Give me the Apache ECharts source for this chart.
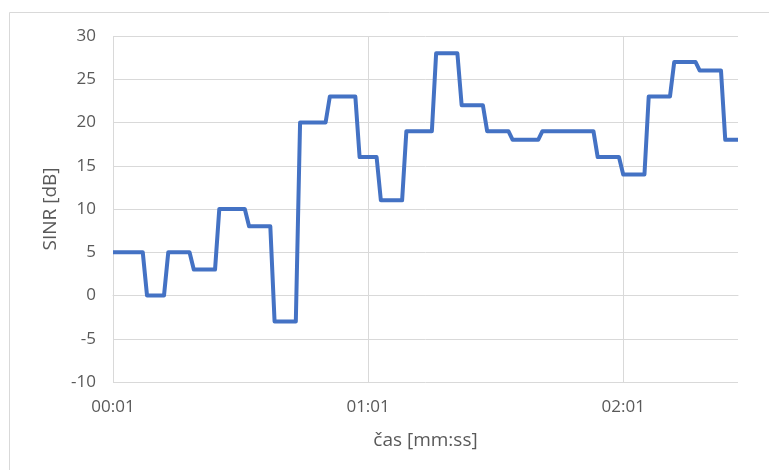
<!DOCTYPE html>
<html>
<head>
<meta charset="utf-8">
<script src="https://cdn.jsdelivr.net/npm/echarts@6/dist/echarts.min.js"></script>
<style>
html,body{margin:0;padding:0;background:#fff;}
#c{width:769px;height:470px;}
</style>
</head>
<body>
<div id="c"></div>
<script>
// Time categories: one sample per second, 00:01 .. 02:28
var startSecond = 1;
var sampleCount = 148;
var categories = [];
for (var i = 0; i < sampleCount; i++) {
  var t = startSecond + i;
  var mm = Math.floor(t / 60), ss = t % 60;
  categories.push((mm < 10 ? '0' : '') + mm + ':' + (ss < 10 ? '0' : '') + ss);
}

// SINR values [dB]
var sinr = [
  5,5,5,5,5,5,5,5,
  0,0,0,0,0,
  5,5,5,5,5,5,
  3,3,3,3,3,3,
  10,10,10,10,10,10,10,
  8,8,8,8,8,8,
  -3,-3,-3,-3,-3,-3,
  20,20,20,20,20,20,20,
  23,23,23,23,23,23,23,
  16,16,16,16,16,
  11,11,11,11,11,11,
  19,19,19,19,19,19,19,
  28,28,28,28,28,28,
  22,22,22,22,22,22,
  19,19,19,19,19,19,
  18,18,18,18,18,18,18,
  19,19,19,19,19,19,19,19,19,19,19,19,19,
  16,16,16,16,16,16,
  14,14,14,14,14,14,
  23,23,23,23,23,23,
  27,27,27,27,27,27,
  26,26,26,26,26,26,
  18,18,18,18
];

var yTicks = { min: -10, max: 30, step: 5 };
var xTitle = 'čas [mm:ss]';
var yTitle = 'SINR [dB]';

var font = '"Open Sans", "Noto Sans", sans-serif';
var textColor = '#595959';
var gridColor = '#d9d9d9';

var chart = echarts.init(document.getElementById('c'), null, { renderer: 'canvas' });
chart.setOption({
  animation: false,
  backgroundColor: '#ffffff',
  graphic: [{
    type: 'rect',
    shape: { x: 9.5, y: 12.5, width: 900, height: 600 },
    style: { fill: 'none', stroke: gridColor, lineWidth: 1 },
    silent: true,
    z: -10
  }],
  grid: { left: 113, top: 36, width: 625, height: 346, containLabel: false },
  xAxis: {
    type: 'category',
    data: categories,
    boundaryGap: false,
    name: xTitle,
    nameLocation: 'middle',
    nameGap: 49,
    nameTextStyle: { fontFamily: font, fontSize: 19, color: textColor },
    axisLine: { show: true, lineStyle: { color: gridColor, width: 1 } },
    axisTick: { show: false },
    axisLabel: {
      interval: 59,
      margin: 17,
      fontFamily: font, fontSize: 17, color: textColor
    },
    splitLine: { show: true, interval: 59, lineStyle: { color: gridColor, width: 1 } }
  },
  yAxis: {
    type: 'value',
    min: yTicks.min,
    max: yTicks.max,
    interval: yTicks.step,
    name: yTitle,
    nameLocation: 'middle',
    nameGap: 51,
    nameTextStyle: { fontFamily: font, fontSize: 19, color: textColor },
    axisLine: { show: false },
    axisTick: { show: false },
    axisLabel: { margin: 17, fontFamily: font, fontSize: 17, color: textColor },
    splitLine: { show: true, lineStyle: { color: gridColor, width: 1 } }
  },
  series: [{
    type: 'line',
    data: sinr,
    showSymbol: false,
    symbol: 'none',
    smooth: false,
    lineStyle: { color: '#4472C4', width: 4, cap: 'butt', join: 'round' }
  }]
});
</script>
</body>
</html>
